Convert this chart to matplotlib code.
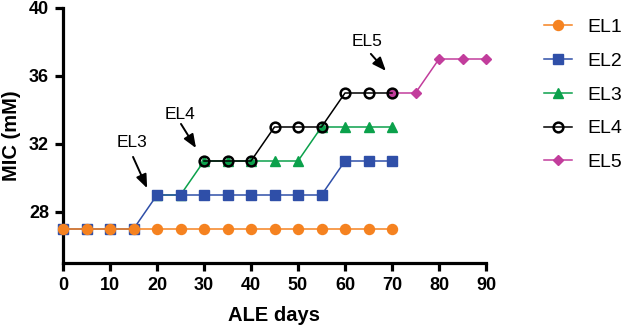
import matplotlib
matplotlib.use("Agg")
import matplotlib.pyplot as plt

plt.rcParams['font.family'] = ['Liberation Sans', 'DejaVu Sans']

el1_x = [0, 5, 10, 15, 20, 25, 30, 35, 40, 45, 50, 55, 60, 65, 70]
el1_y = [27] * 15
el2_x = [0, 5, 10, 15, 20, 25, 30, 35, 40, 45, 50, 55, 60, 65, 70]
el2_y = [27, 27, 27, 27, 29, 29, 29, 29, 29, 29, 29, 29, 31, 31, 31]
el3_x = [20, 25, 30, 35, 40, 45, 50, 55, 60, 65, 70]
el3_y = [29, 29, 31, 31, 31, 31, 31, 33, 33, 33, 33]
el4_x = [30, 35, 40, 45, 50, 55, 60, 65, 70]
el4_y = [31, 31, 31, 33, 33, 33, 35, 35, 35]
el5_x = [70, 75, 80, 85, 90]
el5_y = [35, 35, 37, 37, 37]

x_ticks = [0, 10, 20, 30, 40, 50, 60, 70, 80, 90]
y_ticks = [28, 32, 36, 40]

c1, c2, c3, c4, c5 = '#F58220', '#2F4FA8', '#0BA14B', 'black', '#C23D9C'

fig = plt.figure(figsize=(6.24, 3.32), dpi=100)
ax = fig.add_axes([63/624, 1-263/332, (486-63)/624, (263-8)/332])

lw = 1.1
h3, = ax.plot(el3_x, el3_y, color=c3, marker='^', ms=7, lw=lw, clip_on=False, zorder=2, label='EL3')
h5, = ax.plot(el5_x, el5_y, color=c5, marker='D', ms=5, lw=lw, clip_on=False, zorder=3, label='EL5')
h4, = ax.plot(el4_x, el4_y, color=c4, marker='o', ms=7, mfc='none', mew=1.8, lw=lw, clip_on=False, zorder=4, label='EL4')
h2, = ax.plot(el2_x, el2_y, color=c2, marker='s', ms=6.5, lw=lw, clip_on=False, zorder=5, label='EL2')
h1, = ax.plot(el1_x, el1_y, color=c1, marker='o', ms=7.2, lw=lw, clip_on=False, zorder=6, label='EL1')

ax.set_xlim(0, 90)
ax.set_ylim(25, 40)
ax.set_xticks(x_ticks)
ax.set_yticks(y_ticks)
for s in ['top', 'right']:
    ax.spines[s].set_visible(False)
for s in ['left', 'bottom']:
    ax.spines[s].set_linewidth(2.3)
ax.tick_params(direction='out', length=6, width=2.3, labelsize=13, pad=4)
for lab in ax.get_xticklabels() + ax.get_yticklabels():
    lab.set_fontweight('bold')

ax.set_xlabel('ALE days', fontsize=14.5, fontweight='bold', labelpad=9)
ax.set_ylabel('MIC (mM)', fontsize=14.5, fontweight='bold', labelpad=6)

arrowprops = dict(arrowstyle='-|>,head_length=0.45,head_width=0.18', color='black',
                  lw=1.4, mutation_scale=18, shrinkA=0, shrinkB=0)
ax.annotate('', xy=(17.9, 29.4), xytext=(14.9, 31.24), arrowprops=arrowprops, annotation_clip=False)
ax.annotate('', xy=(28.3, 31.76), xytext=(25.1, 33.18), arrowprops=arrowprops, annotation_clip=False)
ax.annotate('', xy=(68.7, 36.3), xytext=(65.5, 37.3), arrowprops=arrowprops, annotation_clip=False)
ax.text(14.6, 32.1, 'EL3', ha='center', va='center', fontsize=12.5)
ax.text(24.9, 33.75, 'EL4', ha='center', va='center', fontsize=12.5)
ax.text(64.7, 38.0, 'EL5', ha='center', va='center', fontsize=12.5)

fig.legend(handles=[h1, h2, h3, h4, h5], loc='upper left', bbox_to_anchor=(544/624, 1-18.5/332),
           borderaxespad=0, borderpad=0,
           frameon=False, fontsize=14, handlelength=1.45, labelspacing=0.83, handletextpad=0.8)

fig.savefig('out.png', dpi=100)
